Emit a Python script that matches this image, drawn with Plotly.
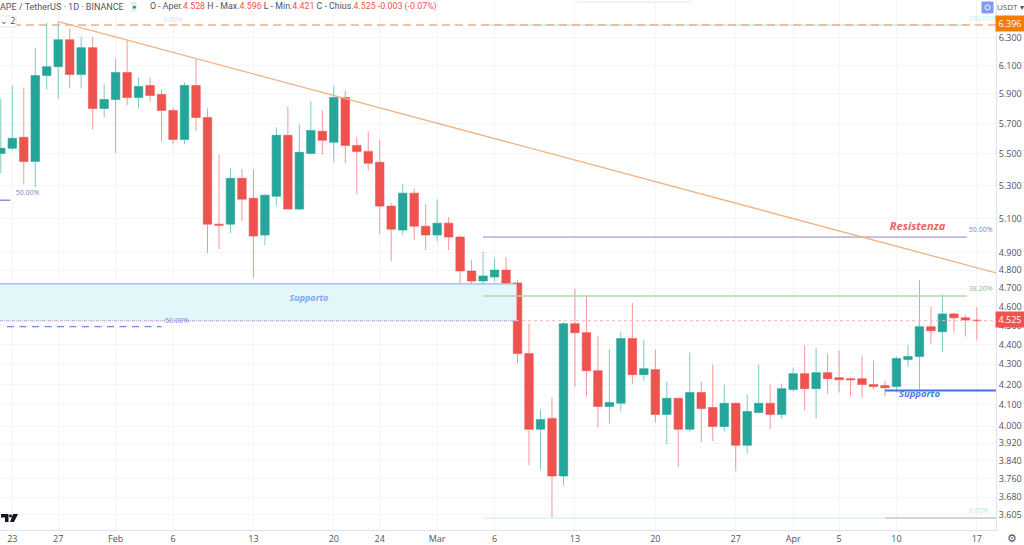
import math

import pandas as pd
import plotly.graph_objects as go

# daily candles
dates = pd.date_range("2023-01-22", "2023-04-17", freq="D")
opens = [5.503, 5.536, 5.608, 5.452, 6.028, 6.091, 6.286, 6.035, 6.228, 5.800,
         5.861, 6.049, 5.875, 5.958, 5.896, 5.787, 5.594, 5.958, 5.739, 5.066,
         5.066, 5.345, 5.222, 5.002, 5.234, 5.621, 5.156, 5.503, 5.647, 5.575,
         5.875, 5.555, 5.516, 5.446, 5.174, 5.031, 5.253, 5.054,
         5.002, 5.072, 4.990, 4.796, 4.740, 4.762, 4.801, 4.729, 4.354, 3.985,
         4.036, 3.773, 4.509, 4.462, 4.268, 4.093, 4.108, 4.431, 4.248, 4.273,
         4.055, 4.132, 3.985, 4.160, 4.088, 3.998, 4.108, 3.911, 4.064, 4.108,
         4.055,
         4.175, 4.253, 4.179, 4.258, 4.233, 4.228, 4.228, 4.199, 4.194, 4.189,
         4.324, 4.339, 4.493, 4.467, 4.561, 4.540, 4.528]
highs = [5.868, 5.958, 5.944, 6.228, 6.412, 6.420, 6.367, 6.308, 6.308, 5.972,
         6.149, 6.286, 6.014, 6.014, 5.930, 5.807, 5.979, 6.149, 5.800, 5.497,
         5.408, 5.402, 5.402, 5.247, 5.673, 5.814, 5.693, 5.848, 5.787, 5.958,
         5.923, 5.608, 5.647, 5.588, 5.192, 5.308, 5.283, 5.186,
         5.216, 5.108, 4.996, 4.858, 4.903, 4.869, 4.874, 4.746, 4.509, 4.079,
         4.136, 4.519, 4.697, 4.664, 4.446, 4.375, 4.467, 4.620, 4.426, 4.375,
         4.213, 4.132, 4.359, 4.213, 4.298, 4.199, 4.112, 4.151, 4.298, 4.199,
         4.204,
         4.283, 4.395, 4.385, 4.354, 4.370, 4.233, 4.344, 4.319, 4.218, 4.339,
         4.400, 4.746, 4.599, 4.669, 4.567, 4.556, 4.596]
lows = [5.377, 5.523, 5.308, 5.290, 5.930, 5.868, 5.937, 5.937, 5.660, 5.739,
        5.503, 5.821, 5.800, 5.848, 5.581, 5.562, 5.562, 5.647, 4.897, 4.921,
        5.014, 5.084, 4.757, 4.944, 5.174, 5.156, 5.150, 5.497, 5.497, 5.446,
        5.440, 5.247, 5.396, 5.008, 4.852, 5.002, 4.973, 4.915,
        4.967, 4.915, 4.561, 4.572, 4.691, 4.735, 4.545, 4.303, 3.821, 3.799,
        3.592, 3.733, 4.189, 4.141, 3.994, 4.012, 4.069, 4.204, 4.218, 4.017,
        3.916, 3.812, 3.971, 3.925, 3.930, 3.975, 3.794, 3.875, 4.059, 3.985,
        4.036,
        4.165, 4.074, 4.036, 4.155, 4.160, 4.141, 4.136, 4.175, 4.141, 4.160,
        4.288, 4.175, 4.405, 4.364, 4.462, 4.441, 4.421]
closes = [5.536, 5.601, 5.452, 6.028, 6.091, 6.286, 6.035, 6.228, 5.800, 5.861,
          6.049, 5.875, 5.951, 5.889, 5.787, 5.594, 5.958, 5.739, 5.066, 5.060,
          5.345, 5.216, 4.996, 5.240, 5.621, 5.156, 5.510, 5.653, 5.588, 5.875,
          5.555, 5.516, 5.440, 5.174, 5.036, 5.253, 5.054, 5.002,
          5.072, 4.990, 4.796, 4.740, 4.768, 4.801, 4.729, 4.354, 3.985, 4.031,
          3.773, 4.509, 4.462, 4.268, 4.093, 4.112, 4.431, 4.248, 4.278, 4.055,
          4.132, 3.985, 4.160, 4.083, 3.998, 4.108, 3.911, 4.069, 4.108, 4.055,
          4.179,
          4.253, 4.179, 4.258, 4.228, 4.223, 4.223, 4.199, 4.189, 4.184, 4.329,
          4.339, 4.493, 4.472, 4.561, 4.540, 4.528, 4.525]

x_ticks = ["2023-01-23", "2023-01-27", "2023-02-01", "2023-02-06", "2023-02-13",
           "2023-02-20", "2023-02-24", "2023-03-01", "2023-03-06", "2023-03-13",
           "2023-03-20", "2023-03-27", "2023-04-01", "2023-04-05", "2023-04-10",
           "2023-04-17"]
x_labels = ["23", "27", "Feb", "6", "13", "20", "24", "Mar", "6", "13", "20", "27",
            "Apr", "5", "10", "17"]
y_ticks = [3.605, 3.68, 3.76, 3.84, 3.92, 4.0, 4.1, 4.2, 4.3, 4.4, 4.5, 4.6, 4.7,
           4.8, 4.9, 5.1, 5.3, 5.5, 5.7, 5.9, 6.1, 6.3]

x_range = ["2023-01-21 22:20", "2023-04-18 16:00"]
y_range = [3.542, 6.585]

# levels drawn on the chart
trend_x = ["2023-01-27", "2023-04-18 16:00"]
trend_y = [6.42, 4.785]
fib_top = 6.396
fib_50 = 4.99
fib_382 = 4.658
fib_bottom = 3.592
left_50 = 5.21
zone_top = 4.724
zone_bottom = 4.524
zone_dash = 4.493
support_right = 4.17
last_price = 4.525

FIB_START = "2023-03-05"
FIB_END = "2023-04-16 03:00"
ZONE_END = "2023-03-07 22:00"
GREEN = "#26a69a"
RED = "#ef5350"
TEXT = "#50535e"
PLOT_W = 996
PLOT_H = 532


def px(x):
    return x / PLOT_W


def py(y):
    return 1 - y / PLOT_H


def level(fig, x0, x1, y, color, width=1, dash="solid"):
    fig.add_trace(go.Scatter(x=[x0, x1], y=[y, y], mode="lines", hoverinfo="skip",
                             line=dict(color=color, width=width, dash=dash)))


def label(fig, x, y, text, color, size=9, italic=False, bold=False):
    fig.add_trace(go.Scatter(x=[x], y=[y], mode="text", text=[text], hoverinfo="skip",
                             textposition="middle center",
                             textfont=dict(color=color, size=size, family="Open Sans",
                                           style="italic" if italic else "normal",
                                           weight="bold" if bold else "normal")))


def page_text(x, y, text, color=TEXT, size=9, anchor="left", family="Open Sans", **kw):
    return dict(xref="paper", yref="paper", x=px(x), y=py(y), text=text, showarrow=False,
                xanchor=anchor, yanchor="middle", font=dict(color=color, size=size, family=family), **kw)


fig = go.Figure()

# support zone goes under the candles
fig.add_trace(go.Scatter(
    x=[x_range[0], ZONE_END, ZONE_END, x_range[0], x_range[0]],
    y=[zone_bottom, zone_bottom, zone_top, zone_top, zone_bottom],
    mode="lines", fill="toself", fillcolor="#e3f6fa", line=dict(width=0), hoverinfo="skip"))
level(fig, x_range[0], ZONE_END, zone_top, "#8aa4ee")
level(fig, x_range[0], x_range[1], last_price, "#f7b4b2", dash="dot")
level(fig, x_range[0], ZONE_END, zone_bottom, "#a3a8ea", width=1, dash="1px,1px")
level(fig, "2023-01-22 13:00", "2023-02-05", zone_dash, "#4a6fe3", width=1, dash="7px,5.5px")
level(fig, x_range[0], "2023-01-22 20:00", left_50, "#6a55b8")
level(fig, FIB_START, FIB_END, fib_top, "#d5f3f6", width=2)
level(fig, x_range[0], x_range[1], fib_top, "#f0b083", width=1.5, dash="8px,5px")
level(fig, FIB_START, FIB_END, fib_50, "#8f83c9")
level(fig, FIB_START, FIB_END, fib_382, "#b5d6b0", width=1.5)
level(fig, FIB_START, FIB_END, fib_bottom, "#c8eef2")
level(fig, "2023-04-09", x_range[1], fib_bottom, "#d4d4d4", width=2)

fig.add_trace(go.Candlestick(
    x=dates, open=opens, high=highs, low=lows, close=closes,
    increasing=dict(fillcolor=GREEN, line=dict(color="rgba(38,166,154,0.6)", width=1)),
    decreasing=dict(fillcolor=RED, line=dict(color="rgba(239,83,80,0.6)", width=1)),
    whiskerwidth=0, hoverinfo="skip"))

fig.add_trace(go.Scatter(x=trend_x, y=trend_y, mode="lines", hoverinfo="skip",
                         line=dict(color="#f4b183", width=1.3)))
level(fig, "2023-04-09", x_range[1], support_right, "#4a6fe3", width=2)

label(fig, "2023-02-17 20:00", 4.645, "Supporto", "#7aa7f0", size=9, italic=True, bold=True)
label(fig, "2023-04-12", 4.15, "Supporto", "#4a7be0", size=9.5, italic=True, bold=True)
label(fig, "2023-04-11 20:00", 5.048, "Resistenza", "#f0606a", size=11, italic=True, bold=True)
label(fig, "2023-01-24 08:00", 5.25, "50.00%", "#8a80c8", size=7)
label(fig, "2023-02-06 08:00", 4.524, "50.00%", "#8a80c8", size=7)
label(fig, "2023-04-17 08:00", 5.03, "50.00%", "#8a80c8", size=7)
label(fig, "2023-04-17 08:00", 4.695, "38.20%", "#8cc088", size=7)
label(fig, "2023-04-17 04:00", 3.62, "0.00%", "#b5e6ec", size=7)
label(fig, "2023-02-06", 6.434, "0.00%", "#d5dcf2", size=7)
label(fig, "2023-04-17 12:00", 6.44, "100.00%", "#c2ecf0", size=7)

legend_text = ("O - Aper.<span style='color:#ef5350'>4.528</span> "
               "H - Max.<span style='color:#ef5350'>4.596</span> "
               "L - Min.<span style='color:#ef5350'>4.421</span> "
               "C - Chius.<span style='color:#ef5350'>4.525 -0.003 (-0.07%)</span>")

shapes = [
    # round flag top right
    dict(type="rect", xref="paper", yref="paper", x0=px(982), x1=px(993), y0=py(13), y1=py(2),
         fillcolor="#7f9cf5", line=dict(color="#7f9cf5", width=1), layer="above"),
    dict(type="circle", xref="paper", yref="paper", x0=px(985), x1=px(990), y0=py(10), y1=py(5),
         line=dict(color="#ffffff", width=1), layer="above"),
    # interval button and the tab at the top edge
    dict(type="rect", xref="paper", yref="paper", x0=px(-2), x1=px(16), y0=py(27), y1=py(16),
         fillcolor="#ffffff", line=dict(color="#e6e6e6", width=1), layer="above"),
    dict(type="rect", xref="paper", yref="paper", x0=px(578), x1=px(690), y0=py(2), y1=py(-3),
         fillcolor="#ffffff", line=dict(color="#e4e4e4", width=1), layer="above"),
    # TradingView mark
    dict(type="path", xref="paper", yref="paper", layer="above", fillcolor="#131722", line_width=0,
         path=f"M {px(1)} {py(516)} H {px(8.5)} V {py(524)} H {px(5)} V {py(519.5)} H {px(1)} Z"),
    dict(type="path", xref="paper", yref="paper", layer="above", fillcolor="#131722", line_width=0,
         path=f"M {px(13)} {py(516)} H {px(18)} L {px(14)} {py(524)} H {px(10)} Z"),
    dict(type="circle", xref="paper", yref="paper", layer="above", fillcolor="#131722", line_width=0,
         x0=px(9), x1=px(12), y0=py(519.5), y1=py(516.5)),
]

annotations = [
    page_text(-2, 7, "APE / TetherUS · 1D · BINANCE", size=9, family="Roboto"),
    page_text(134, 7, "●", color="#089981", size=7, anchor="center", bgcolor="#d8f1ec", borderpad=0),
    page_text(148, 7, legend_text, size=8.8, family="Roboto"),
    page_text(8, 21, "⌄ 2", size=9, anchor="center"),
    page_text(1010, 7, "USDT ▾", size=8, anchor="center"),
    page_text(1012, 540, "⚙", size=11, anchor="center"),
    page_text(1010, 24, "6.396", color="#ffffff", size=9, anchor="center", bgcolor="#f57c00", borderpad=1,
              width=26),
    page_text(1010, 321, "4.525", color="#ffffff", size=9, anchor="center", bgcolor="#ef5350", borderpad=1,
              width=26),
]

fig.update_layout(
    width=1024, height=545, margin=dict(l=0, r=28, t=0, b=13),
    paper_bgcolor="#ffffff", plot_bgcolor="#ffffff", showlegend=False,
    boxgap=0.26, boxgroupgap=0, font=dict(family="Open Sans", size=9, color=TEXT),
    shapes=shapes, annotations=annotations,
)
fig.update_xaxes(
    type="date", range=x_range, rangeslider_visible=False, tickmode="array",
    tickvals=x_ticks, ticktext=x_labels, showgrid=True, gridcolor="#f4f5f7", gridwidth=1,
    showline=True, linecolor="#e0e3eb", ticks="", zeroline=False,
)
fig.update_yaxes(
    type="log", range=[math.log10(v) for v in y_range], side="right", tickmode="array",
    tickvals=y_ticks, ticktext=[f"{v:.3f}" for v in y_ticks], showgrid=True,
    gridcolor="#f4f5f7", gridwidth=1, showline=True, linecolor="#e0e3eb", ticks="", zeroline=False,
)

fig.write_html("out.html", post_script="document.body.style.margin='0';",
               config={"displayModeBar": False})
